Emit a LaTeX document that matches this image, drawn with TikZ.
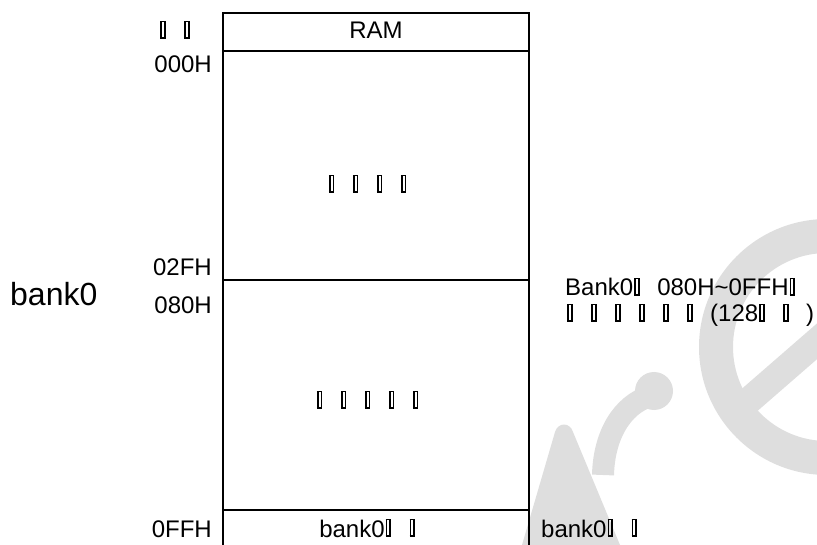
\documentclass[tikz,border=0pt]{standalone}
\usepackage{fontspec}
\setmainfont{Liberation Sans}
\newcommand{\tofu}{\hbox to 1em{\kern0.04em\vbox{\hrule height 0.075em\hbox{\vrule width 0.075em height 0.62em\kern0.08em\vrule width 0.075em}\hrule height 0.075em}\hss}}
\begin{document}
\begin{tikzpicture}[x=1pt,y=-1pt,
  lbl/.style={font=\fontsize{24}{28}\selectfont, inner sep=0pt, anchor=base},
  big/.style={font=\fontsize{32}{36}\selectfont, inner sep=0pt, anchor=base west},
  frame/.style={line width=1.8pt},
  divider/.style={line width=2.2pt},
  wm/.style={black!13}]
\useasboundingbox (0,0) rectangle (817,545);
% watermark
\begin{scope}
\clip (0,0) rectangle (817,545);
\fill[wm, even odd rule] (827,347) circle (128) (827,347) circle (94);
\draw[wm, line width=27pt] (738,410) -- (830,330);
\fill[wm] (522,545) -- (555,432) .. controls (558,422) and (570,422) .. (573,432) -- (620,545) -- cycle;
\draw[wm, line width=22pt] (603,475) .. controls (604,435) and (622,405) .. (650,396);
\fill[wm] (654,391) circle (19);
\end{scope}
% frame
\coordinate (TL) at (223,13);
\coordinate (TR) at (529,13);
\coordinate (BL) at (223,545);
\coordinate (BR) at (529,545);
\coordinate (R1L) at (223,51);
\coordinate (R1R) at (529,51);
\coordinate (R2L) at (223,280);
\coordinate (R2R) at (529,280);
\coordinate (R3L) at (223,510);
\coordinate (R3R) at (529,510);
\draw[frame] (BL) -- (TL) -- (TR) -- (BR);
\draw[divider] (R1L) -- (R1R);
\draw[frame] (R2L) -- (R2R);
\draw[line width=2.6pt] (R3L) -- (R3R);
% labels
\node[lbl, anchor=base west] (addr) at (159,39) {\tofu\tofu};
\node[lbl] (ram) at (376,39) {RAM};
\node[lbl, anchor=base east] (a000) at (212,72.5) {000H};
\node[lbl, anchor=base east] (a02f) at (212,275.5) {02FH};
\node[lbl, anchor=base east] (a080) at (212,313.5) {080H};
\node[lbl, anchor=base east] (a0ff) at (212,537) {0FFH};
\node[big] (bank) at (10,305.5) {bank0};
\node[lbl] (sfr) at (376,193) {\tofu\tofu\tofu\tofu};
\node[lbl] (gpr) at (376,409) {\tofu\tofu\tofu\tofu\tofu};
\node[lbl] (bot) at (376,537) {bank0\tofu\tofu};
\node[lbl, anchor=base west] (rbot) at (541,537) {bank0\tofu\tofu};
\node[lbl, anchor=base west] (r1) at (565,296) {Bank0\tofu080H\textasciitilde0FFH\tofu};
\node[lbl, anchor=base west] (r2) at (566,322) {\tofu\tofu\tofu\tofu\tofu\tofu(128\tofu\tofu)};
\end{tikzpicture}
\end{document}
